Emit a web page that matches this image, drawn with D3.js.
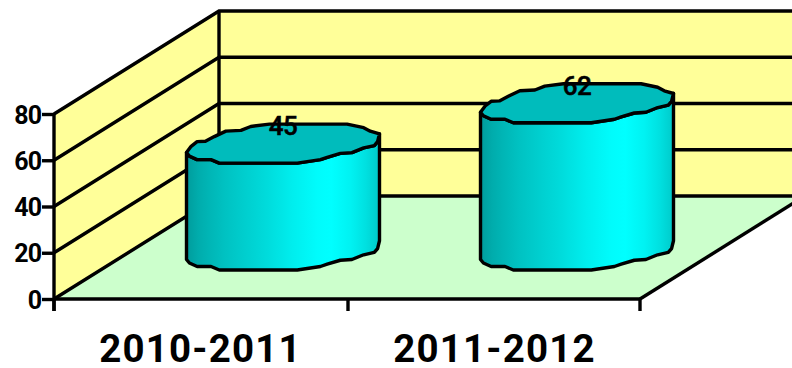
<!DOCTYPE html>
<html><head><meta charset="utf-8">
<script src="https://cdn.jsdelivr.net/npm/d3@7"></script>
<style>html,body{margin:0;padding:0;background:#fff}svg{display:block}text{fill:#000}</style>
</head><body><svg id="c" width="792" height="368"></svg>
<script>
const categories = ["2010-2011", "2011-2012"];
const values = [45, 62];
const yTicks = [0, 20, 40, 60, 80];
// outline of the lid, as fractions of its width and height
const lidBack = [[0,.73],[.024,.57],[.055,.45],[.098,.44],[.144,.32],[.204,.18],[.282,.16],[.333,.06],[.43,0],[.832,0],[.918,.09],[.952,.18],[1,.25]];
const lidFront = [[.99,.45],[.973,.55],[.918,.61],[.857,.73],[.797,.75],[.729,.85],[.694,.91],[.574,1],[.17,1],[.127,.91],[.055,.91],[.015,.82]];
const bandStops = [[0,"#009c9c"],[.06,"#00acac"],[.12,"#00b6b6"],[.2,"#00c2c2"],[.3,"#00cece"],[.42,"#00dcdc"],[.55,"#00eeee"],[.68,"#00fcfc"],[.75,"#00ffff"],[.85,"#00f2f2"],[.93,"#00e0e0"],[1,"#00caca"]];

const W=792,H=368;
const X0=54,X1=640,Y0=299,Y80=114,DX=165,DY=103,LW=3.4;
const svg=d3.select("#c");
const x=d3.scaleBand().domain(categories).range([X0,X1+2]);
const y=d3.scaleLinear().domain([0,80]).range([Y0,Y80]);
const barH=d3.scaleLinear().domain([0,80]).range([0,190]);
const barW=193, lidH=39, baseFront=270;
const line=d3.line();

const defs=svg.append("defs");
const g=defs.append("linearGradient").attr("id","side");
bandStops.forEach(s=>g.append("stop").attr("offset",s[0]).attr("stop-color",s[1]));

// walls and floor
svg.append("path").attr("d",line([[X0,y(0)],[X0+DX,y(0)-DY],[W+20,y(0)-DY],[W+20,y(80)-DY],[X0+DX,y(80)-DY],[X0,y(80)]]))
  .attr("fill","#ffff99");
svg.append("path").attr("d",line([[X0,Y0],[X1,Y0],[X1+DX,Y0-DY],[X0+DX,Y0-DY]]))
  .attr("fill","#ccffcc");
// grid lines
const grid=svg.append("g").attr("fill","none").attr("stroke","#000").attr("stroke-width",LW);
yTicks.forEach(t=>{
  grid.append("path").attr("d",line([[X0,y(t)],[X0+DX,y(t)-DY],[W+20,y(t)-DY]]));
});
grid.append("path").attr("d",line([[X0+DX,y(80)-DY],[X0+DX,y(0)-DY]]));
grid.append("path").attr("d",line([[X1,Y0],[X1+DX,Y0-DY]]));

// axes
const yAxis=svg.append("g").attr("transform",`translate(${X0},0)`)
  .call(d3.axisLeft(y).tickValues(yTicks).tickSize(12).tickSizeOuter(0).tickPadding(1));
yAxis.select(".domain").remove();
yAxis.selectAll("line").attr("stroke","#000").attr("stroke-width",LW);
yAxis.selectAll("text").attr("font-family","Roboto").attr("font-weight",700).attr("font-size",25).attr("letter-spacing",-1).attr("dy","0.36em");
svg.append("path").attr("d",line([[X0,Y80-1],[X0,Y0+12]])).attr("stroke","#000").attr("stroke-width",LW).attr("fill","none");
svg.append("path").attr("d",line([[X0,Y0],[X1,Y0]])).attr("stroke","#000").attr("stroke-width",LW).attr("fill","none");
const xEdges=[...categories.map(c=>x(c)),X1];
svg.selectAll(".xt").data(xEdges).join("path").attr("class","xt")
  .attr("d",d=>line([[d,Y0],[d,Y0+12]])).attr("stroke","#000").attr("stroke-width",LW).attr("fill","none");
svg.selectAll(".xl").data(categories).join("text").attr("class","xl")
  .attr("x",d=>x(d)+x.bandwidth()/2-.5).attr("y",362)
  .attr("text-anchor","middle").attr("font-family","Roboto").attr("font-weight",700).attr("font-size",38.5).attr("letter-spacing",1.2)
  .text(d=>d);

// cylinders
categories.forEach((c,i)=>{
  const cx=x(c)+x.bandwidth()/2+DX/2-.5, h=barH(values[i]);
  const left=cx-barW/2, lidTop=baseFront-h-lidH;
  const P=p=>[left+p[0]*barW,lidTop+p[1]*lidH];
  const back=lidBack.map(P), front=lidFront.map(P);
  const start=back[0], end=back[back.length-1];
  const down=p=>[p[0],p[1]+h];
  const body=[start,...[...front].reverse(),end,down(end),...front.map(down),down(start)];
  svg.append("path").attr("d",line(body)+"Z").attr("fill","url(#side)").attr("stroke","#000").attr("stroke-width",LW).attr("stroke-linejoin","round");
  svg.append("path").attr("d",line([...back,...front])+"Z").attr("fill","#00bcbc").attr("stroke","#000").attr("stroke-width",LW).attr("stroke-linejoin","round");
  svg.append("text").attr("x",cx).attr("y",lidTop+11)
    .attr("text-anchor","middle").attr("font-family","Roboto").attr("font-weight",500).attr("font-size",26)
    .attr("stroke","#000").attr("stroke-width",.5)
    .attr("letter-spacing",-.5).text(values[i]);
});
</script></body></html>
